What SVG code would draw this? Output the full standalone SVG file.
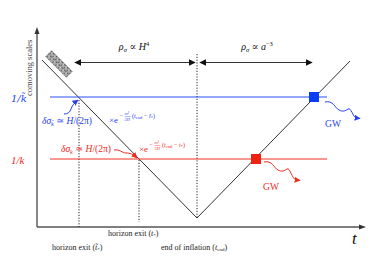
<svg xmlns="http://www.w3.org/2000/svg" width="374" height="280" viewBox="0 0 374 280">
<defs>
<style>
.ax{stroke:#555;stroke-width:1.4;fill:none}
.ln{stroke:#333;stroke-width:1;fill:none}
.dot{stroke:#222;stroke-width:1;stroke-dasharray:1.2 1.6;fill:none}
.t{font-family:"Liberation Serif","DejaVu Serif",serif;}
.dj{font-family:"DejaVu Serif","Liberation Serif",serif;}
.blue{fill:#2a3ff0}
.red{fill:#ee2a1a}
.sup{font-size:6.2px}
.fr{font-size:4.3px;font-style:italic}
</style>
<marker id="ah" viewBox="0 0 10 10" refX="9" refY="5" markerWidth="7" markerHeight="7" orient="auto-start-reverse" markerUnits="userSpaceOnUse"><path d="M0,0 L10,5 L0,10 z" fill="#111"/></marker>
<marker id="ab" viewBox="0 0 10 10" refX="9" refY="5" markerWidth="6" markerHeight="6" orient="auto" markerUnits="userSpaceOnUse"><path d="M0,0 L10,5 L0,10 z" fill="#2a3ff0"/></marker>
<marker id="ar" viewBox="0 0 10 10" refX="9" refY="5" markerWidth="6" markerHeight="6" orient="auto" markerUnits="userSpaceOnUse"><path d="M0,0 L10,5 L0,10 z" fill="#ee2a1a"/></marker>
<pattern id="noise" width="4" height="4" patternUnits="userSpaceOnUse"><rect width="4" height="4" fill="#aaa"/><rect x="0" y="0" width="2" height="1" fill="#555"/><rect x="2" y="2" width="1" height="2" fill="#666"/><rect x="3" y="1" width="1" height="1" fill="#ddd"/></pattern>
</defs>

<g id="axes">
<path class="ax" d="M37,227 V30"/>
<path d="M34.5,34 L37,27 L39.5,34 z" fill="#333"/>
<path class="ax" d="M37,227 H362"/>
<path d="M359,224.5 L366,227 L359,229.5 z" fill="#333"/>
<text class="t" x="0" y="0" font-size="8.5" fill="#444" transform="translate(32,96) rotate(-90)">comoving scales</text>
<text class="t" x="352" y="244" font-size="17" font-style="italic" fill="#111">t</text>
</g>

<g id="connectors">
<path class="ln" d="M42,60 L197,218 L350,61"/>
<path class="dot" d="M197,54 V218"/>
<path class="dot" d="M79,100 V227"/>
<path class="dot" d="M139,160 V222"/>
<path d="M75,62.5 H195" stroke="#333" stroke-width="1.2" marker-start="url(#ah)" marker-end="url(#ah)"/>
<path d="M200,62.5 H312" stroke="#333" stroke-width="1.2" marker-start="url(#ah)" marker-end="url(#ah)"/>
<path d="M50,97 H327" stroke="#2a4ff0" stroke-width="1"/>
<path d="M50,159 H327" stroke="#ee3322" stroke-width="1"/>
<path d="M64,114 C68,114 70,112 71,109 S74,103 78,100" stroke="#2a3ff0" stroke-width="1" fill="none" marker-end="url(#ab)"/>
<path d="M114,150 C120,149 122,153 126,153 S133,154 137,158" stroke="#ee2a1a" stroke-width="1" fill="none" marker-end="url(#ar)"/>
<path d="M325,102 C333,100 335,108 339,110 S345,111 348,109 S353,117 356,118 L360,118.5" stroke="#2a3ff0" stroke-width="1" fill="none" marker-end="url(#ab)"/>
<path d="M264,162 C272,160 274,168 278,170 S284,171 287,169 S292,179 296,180 L300,180.5" stroke="#ee2a1a" stroke-width="1" fill="none" marker-end="url(#ar)"/>
</g>

<g id="blob">
<rect x="-15" y="-4.5" width="30" height="9" fill="url(#noise)" transform="translate(59,64) rotate(45)"/>
</g>

<g id="blue-square"><rect x="309" y="92" width="10" height="10" fill="#0a3cf5"/></g>
<g id="red-square"><rect x="251" y="154" width="10" height="10" fill="#ee2211"/></g>

<g id="rho-labels">
<text class="t" x="134" y="50" font-size="10" text-anchor="middle" fill="#111"><tspan font-style="italic">ρ</tspan><tspan font-size="6.5" dy="1.5" font-style="italic">σ</tspan><tspan dy="-1.5"> ∝ </tspan><tspan font-style="italic">H</tspan><tspan font-size="6.5" dy="-4">4</tspan></text>
<text class="t" x="257" y="50" font-size="10" text-anchor="middle" fill="#111"><tspan font-style="italic">ρ</tspan><tspan font-size="6.5" dy="1.5" font-style="italic">σ</tspan><tspan dy="-1.5"> ∝ </tspan><tspan font-style="italic">a</tspan><tspan font-size="6.5" dy="-4">−3</tspan></text>
</g>

<g id="scale-labels">
<text class="dj blue" x="11" y="102" font-size="10" font-style="italic">1/k̃</text>
<text class="t red" x="11" y="164" font-size="11" font-style="italic">1/k</text>
</g>

<g id="blue-fluct">
<text class="t blue" x="42" y="124" font-size="9.5"><tspan font-style="italic">δσ</tspan><tspan font-size="6" dy="1.5" font-style="italic">k̃</tspan><tspan dy="-1.5"> ≃ </tspan><tspan font-style="italic">H</tspan>/(2π)</text>
<text class="t blue" x="109" y="123" font-size="9">×e</text>
<text class="t blue sup" x="119.5" y="118">−</text>
<text class="t blue fr" x="124.5" y="115.3">m²</text>
<path d="M124.5,116.6 H130.5" stroke="#2a3ff0" stroke-width="0.4"/>
<text class="t blue fr" x="124.5" y="120.7">3H</text>
<text class="t blue sup" x="132" y="118">(<tspan font-style="italic">t</tspan><tspan font-size="4.5" dy="1">end</tspan><tspan dy="-1"> − </tspan><tspan font-style="italic">t̃</tspan><tspan font-size="4.5" dy="1">*</tspan><tspan dy="-1">)</tspan></text>
</g>

<g id="red-fluct">
<text class="t red" x="61" y="152" font-size="9.5"><tspan font-style="italic">δσ</tspan><tspan font-size="6" dy="1.5" font-style="italic">k</tspan><tspan dy="-1.5"> ≃ </tspan><tspan font-style="italic">H</tspan>/(2π)</text>
<text class="t red" x="139" y="152" font-size="9">×e</text>
<text class="t red sup" x="149.5" y="147">−</text>
<text class="t red fr" x="154.5" y="144.3">m²</text>
<path d="M154.5,145.6 H160.5" stroke="#ee2a1a" stroke-width="0.4"/>
<text class="t red fr" x="154.5" y="149.7">3H</text>
<text class="t red sup" x="162" y="147">(<tspan font-style="italic">t</tspan><tspan font-size="4.5" dy="1">end</tspan><tspan dy="-1"> − </tspan><tspan font-style="italic">t</tspan><tspan font-size="4.5" dy="1">*</tspan><tspan dy="-1">)</tspan></text>
</g>

<g id="gw-labels">
<text class="t blue" x="333" y="127" font-size="9.5" text-anchor="middle">GW</text>
<text class="t red" x="271" y="190" font-size="9.5" text-anchor="middle">GW</text>
</g>

<g id="time-labels">
<text class="t" x="108" y="236" font-size="8" fill="#222">horizon exit (<tspan font-style="italic">t</tspan><tspan font-size="5" dy="1">*</tspan><tspan dy="-1">)</tspan></text>
<text class="t" x="52" y="250" font-size="8" fill="#222">horizon exit (<tspan font-style="italic">t̃</tspan><tspan font-size="5" dy="1">*</tspan><tspan dy="-1">)</tspan></text>
<text class="t" x="161" y="250" font-size="8" fill="#222">end of inflation (<tspan font-style="italic">t</tspan><tspan font-size="5" dy="1">end</tspan><tspan dy="-1">)</tspan></text>
</g>
</svg>
